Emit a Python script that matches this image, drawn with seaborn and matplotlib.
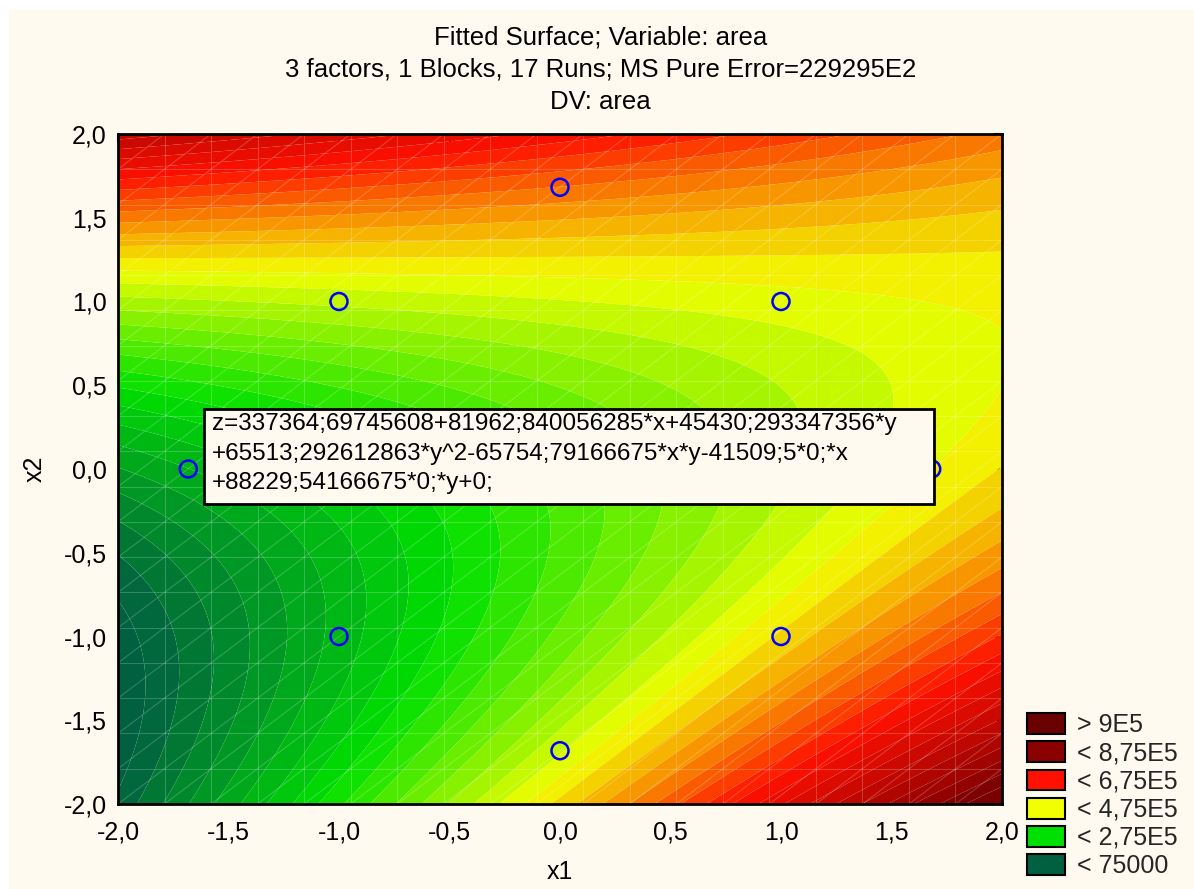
import numpy as np
import matplotlib
matplotlib.use("Agg")
import matplotlib.pyplot as plt
from matplotlib.colors import to_rgb
from matplotlib.patches import Patch, Rectangle
import seaborn as sns

# Fitted response-surface coefficients (third factor held at 0)
b0 = 337364.69745608
b_x = 81962.840056285
b_y = 45430.293347356
b_yy = 65513.292612863
b_xy = -65754.79166675

# Central composite design points in the x1/x2 plane
design_x1 = [-1.0, 1.0, -1.0, 1.0, -1.682, 1.682, 0.0, 0.0, 0.0]
design_x2 = [-1.0, -1.0, 1.0, 1.0, 0.0, 0.0, -1.682, 1.682, 0.0]

# Colour key
legend_labels = ["> 9E5", "< 8,75E5", "< 6,75E5", "< 4,75E5", "< 2,75E5", "< 75000"]
legend_colors = ["#6b0000", "#8b0000", "#ff1000", "#f2ff00", "#00e000", "#006040"]
anchor_values = [75000, 275000, 475000, 675000, 875000]
anchor_colors = ["#006040", "#00e000", "#f2ff00", "#ff1000", "#8b0000"]
level_step = 25000

tick_values = [-2.0, -1.5, -1.0, -0.5, 0.0, 0.5, 1.0, 1.5, 2.0]
tick_labels = [f"{v:.1f}".replace(".", ",") for v in tick_values]

formula_text = ("z=337364;69745608+81962;840056285*x+45430;293347356*y\n"
                "+65513;292612863*y^2-65754;79166675*x*y-41509;5*0;*x\n"
                "+88229;54166675*0;*y+0;")

title_text = ("Fitted Surface; Variable: area\n"
              "3 factors, 1 Blocks, 17 Runs; MS Pure Error=229295E2\n"
              "DV: area")

sns.set_theme(style="white")
plt.rcParams["font.family"] = ["Liberation Sans", "DejaVu Sans"]

W, H = 1194, 889
cream = "#fffaf0"
fig = plt.figure(figsize=(W / 100, H / 100), dpi=100)
fig.patch.set_facecolor("white")
fig.add_artist(Rectangle((9 / W, 0), 1 - 9 / W, 1 - 10 / H, transform=fig.transFigure,
                         facecolor=cream, edgecolor="none", zorder=-10))

ax = fig.add_axes([118 / W, 1 - 804 / H, (1002 - 118) / W, (804 - 134) / H])


def surface(x, y):
    return b0 + b_x * x + b_y * y + b_yy * y ** 2 + b_xy * x * y


gx = np.linspace(-2, 2, 401)
GX, GY = np.meshgrid(gx, gx)
Z = surface(GX, GY)


def color_at(v):
    a = np.array(anchor_values, dtype=float)
    cols = np.array([to_rgb(c) for c in anchor_colors])
    return tuple(np.interp(v, a, cols[:, k]) for k in range(3))


# 25000-wide bands, each coloured from the gradient at its midpoint
levels = [Z.min() - 1] + list(range(75000, 900001, level_step)) + [Z.max() + 1]
band_colors = [to_rgb(legend_colors[-1])]
for lower in range(75000, 875000, level_step):
    band_colors.append(color_at(lower + level_step / 2))
band_colors.append(to_rgb("#7e0000"))
band_colors.append(to_rgb("#780000"))

ax.contourf(GX, GY, Z, levels=levels, colors=band_colors, antialiased=True, zorder=1)

# faint surface mesh
mesh = np.linspace(-2, 2, 20)
mesh_kw = dict(color="white", alpha=0.2, lw=0.8, zorder=2)
ax.vlines(mesh, -2, 2, **mesh_kw)
ax.hlines(mesh, -2, 2, **mesh_kw)
step = mesh[1] - mesh[0]
for k in range(-19, 20):
    c = k * step
    xs = np.array([-2.0, 2.0])
    ax.plot(xs, xs + c, **mesh_kw)

sns.scatterplot(x=design_x1, y=design_x2, ax=ax, marker="o", s=150,
                facecolors="none", edgecolor="#0000ff", linewidth=1.8, zorder=3)

ax.add_patch(Rectangle((0.0973, 0.4478), 0.923 - 0.0973, 0.5896 - 0.4478,
                       transform=ax.transAxes, facecolor=cream, edgecolor="black",
                       lw=2, zorder=5))
ax.text(0.1065, 0.583, formula_text, transform=ax.transAxes, ha="left", va="top",
        fontsize=17.5, linespacing=1.42, color="black", zorder=6)

ax.set_xlim(-2, 2)
ax.set_ylim(-2, 2)
ax.set_xticks(tick_values)
ax.set_xticklabels(tick_labels)
ax.set_yticks(tick_values)
ax.set_yticklabels(tick_labels)
ax.tick_params(direction="in", length=6, width=1.5, top=True, right=True,
               labelsize=18, colors="black", pad=8)
ax.tick_params(axis="x", pad=12)
for sp in ax.spines.values():
    sp.set_color("black")
    sp.set_linewidth(2)
    sp.set_zorder(7)
ax.set_xlabel("x1", fontsize=18, color="black", labelpad=11)
ax.set_ylabel("x2", fontsize=18, color="black", labelpad=12)
ax.grid(False)

fig.text(0.503, 1 - 26 / H, title_text, ha="center", va="top", fontsize=18.5,
         linespacing=1.42, color="black")

handles = [Patch(facecolor=c, edgecolor="black", linewidth=1.5) for c in legend_colors]
fig.legend(handles, legend_labels, loc="upper left",
           bbox_to_anchor=(1022 / W, 1 - 708 / H), frameon=False, fontsize=18,
           handlelength=1.5, handleheight=0.9, handletextpad=0.5,
           labelspacing=0.17, borderaxespad=0, borderpad=0.2)

fig.savefig("out.png", dpi=100, facecolor=fig.get_facecolor())
